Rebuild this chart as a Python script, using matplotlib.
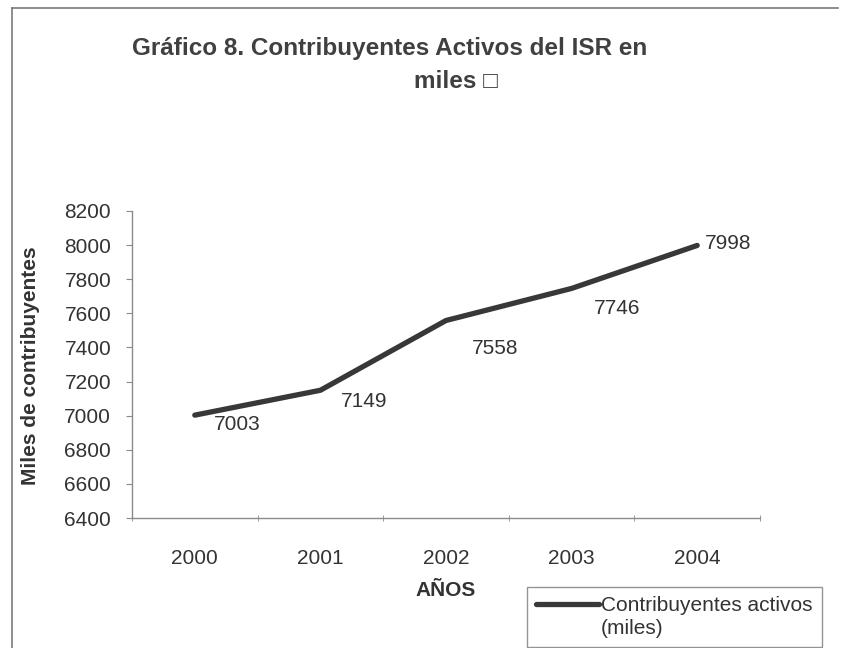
import matplotlib
matplotlib.use("Agg")
import matplotlib.pyplot as plt
from matplotlib.lines import Line2D

plt.rcParams["font.family"] = ["Liberation Sans", "DejaVu Sans"]

years = ["2000", "2001", "2002", "2003", "2004"]
contribuyentes = [7003, 7149, 7558, 7746, 7998]
y_ticks = [6400, 6600, 6800, 7000, 7200, 7400, 7600, 7800, 8000, 8200]

text_col = "#333333"
axis_col = "#8a8a8a"

fig = plt.figure(figsize=(8.42, 6.48), dpi=100)
ax = fig.add_axes([132 / 842, 1 - 518 / 648, (760 - 132) / 842, (518 - 211) / 648])

x = list(range(len(years)))
serie, = ax.plot(x, contribuyentes, color="#383838", linewidth=3.8, solid_capstyle="round")

# etiquetas de datos, colocadas a mano como en el original
offsets = [(42, -9), (44, -11), (49, -28), (46, -20), (31, 2)]
for xi, v, off in zip(x, contribuyentes, offsets):
    ax.annotate(str(v), (xi, v), xytext=off, textcoords="offset pixels",
                ha="center", va="center", fontsize=15, color=text_col)

ax.set_xlim(-0.5, len(years) - 0.5)
ax.set_ylim(6400, 8200)
ax.set_yticks(y_ticks)
ax.set_yticklabels([str(t) for t in y_ticks])
ax.set_xticks(x)
ax.set_xticklabels(years)
ax.set_xticks([i - 0.5 for i in range(len(years) + 1)], minor=True)

ax.tick_params(axis="x", which="major", length=0, pad=22, labelsize=15, labelcolor=text_col)
ax.tick_params(axis="x", which="minor", length=4, direction="inout", color=axis_col)
ax.tick_params(axis="y", length=4, direction="out", color=axis_col, pad=11,
               labelsize=15, labelcolor=text_col)

for s in ["top", "right"]:
    ax.spines[s].set_visible(False)
for s in ["left", "bottom"]:
    ax.spines[s].set_color(axis_col)
    ax.spines[s].set_linewidth(1.0)

fig.text(390 / 842, 1 - 48 / 648, "Gráfico 8. Contribuyentes Activos del ISR en",
         ha="center", va="center", fontsize=17.5, fontweight="bold", color="#404040")
fig.text(456 / 842, 1 - 81 / 648, "miles \u25a1",
         ha="center", va="center", fontsize=17.5, fontweight="bold", color="#404040")

fig.text(31 / 842, 1 - 366 / 648, "Miles de contribuyentes", rotation=90,
         ha="center", va="center", fontsize=15, fontweight="bold", color=text_col)
fig.text(446 / 842, 1 - 591 / 648, "AÑOS",
         ha="center", va="center", fontsize=15, fontweight="bold", color=text_col)

# leyenda: la muestra de linea va junto a la primera linea del texto
vacio = Line2D([], [], alpha=0)
leg = fig.legend([serie, vacio], ["Contribuyentes activos", "(miles)"],
                 loc="upper left", bbox_to_anchor=(527 / 842, 1 - 587 / 648),
                 fontsize=15, frameon=True, fancybox=False, handlelength=3.0,
                 borderpad=0.45, handletextpad=0.1, borderaxespad=0,
                 labelspacing=0.15)
leg.get_frame().set_edgecolor("#7a7a7a")
leg.get_frame().set_linewidth(1.0)
leg.get_frame().set_width(298)
for t in leg.get_texts():
    t.set_color(text_col)

# marco exterior del grafico (solo arriba e izquierda visibles en el escaneo)
fig.add_artist(Line2D([12 / 842, 838 / 842], [1 - 8 / 648, 1 - 8 / 648],
                      transform=fig.transFigure, color="#7a7a7a", linewidth=1.2))
fig.add_artist(Line2D([12 / 842, 12 / 842], [1 - 8 / 648, 0],
                      transform=fig.transFigure, color="#7a7a7a", linewidth=1.2))

fig.savefig("out.png", dpi=100)
